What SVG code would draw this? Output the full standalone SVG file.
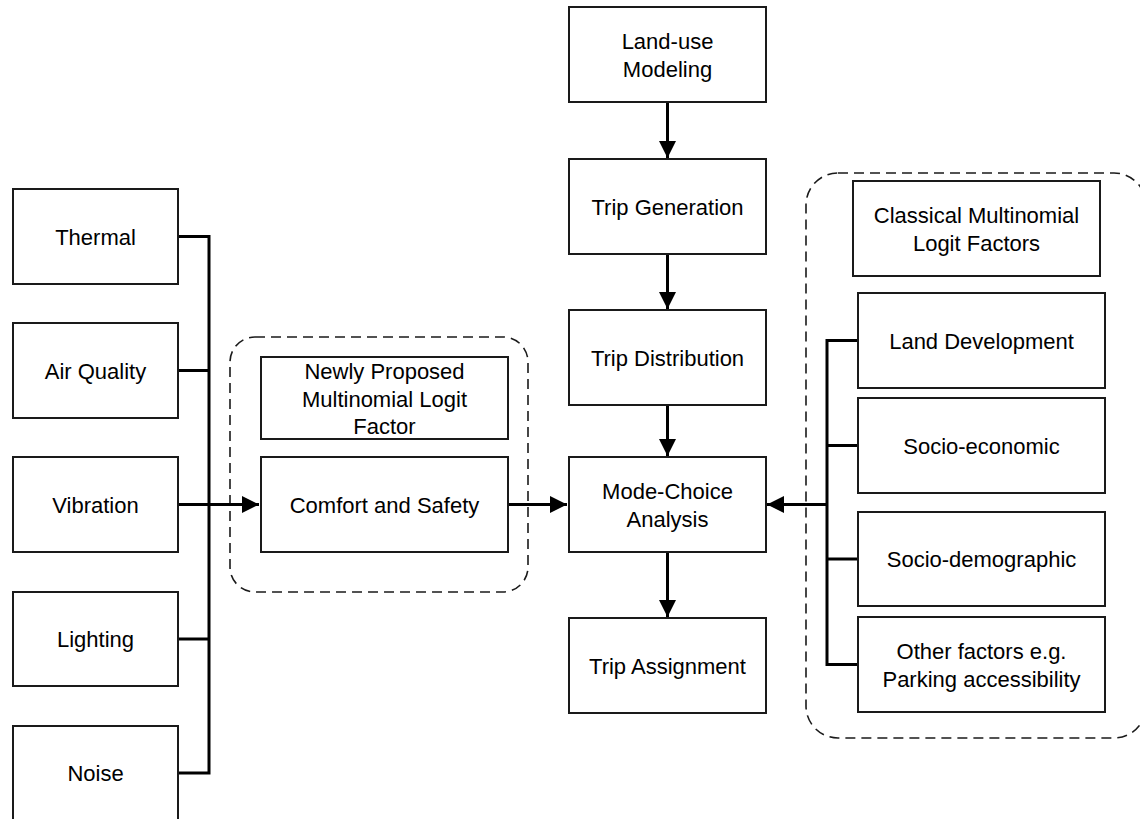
<svg xmlns="http://www.w3.org/2000/svg" width="1140" height="819" viewBox="0 0 1140 819">
<style>
.box{fill:#fff;stroke:#1a1a1a;stroke-width:2}
.grp{fill:none;stroke:#1a1a1a;stroke-width:1.6;stroke-dasharray:10 6}
.ln{fill:none;stroke:#000;stroke-width:3}
text{font-family:"Liberation Sans",Arial,sans-serif;font-size:22px;fill:#000;text-anchor:middle}
</style>
<defs>
<marker id="ah" viewBox="0 0 10 10" refX="10" refY="5" markerWidth="17" markerHeight="17" markerUnits="userSpaceOnUse" orient="auto">
<path d="M0,0 L10,5 L0,10 z" fill="#000"/>
</marker>
</defs>
<rect width="1140" height="819" fill="#fff"/>
<g id="groups">
<rect class="grp" x="230" y="337" width="298" height="255" rx="25" ry="25"/>
<rect class="grp" x="806" y="173" width="340" height="565" rx="32" ry="32"/>
</g>
<g id="connectors">
<polyline class="ln" points="178,236.5 209,236.5 209,773 178,773"/>
<line class="ln" x1="178" y1="370.5" x2="209" y2="370.5"/>
<line class="ln" x1="178" y1="639" x2="209" y2="639"/>
<line class="ln" x1="178" y1="504.5" x2="259" y2="504.5" marker-end="url(#ah)"/>
<line class="ln" x1="508" y1="504.5" x2="567" y2="504.5" marker-end="url(#ah)"/>
<line class="ln" x1="667.5" y1="102" x2="667.5" y2="158" marker-end="url(#ah)"/>
<line class="ln" x1="667.5" y1="254" x2="667.5" y2="309" marker-end="url(#ah)"/>
<line class="ln" x1="667.5" y1="405" x2="667.5" y2="456" marker-end="url(#ah)"/>
<line class="ln" x1="667.5" y1="552" x2="667.5" y2="617" marker-end="url(#ah)"/>
<polyline class="ln" points="858,340.5 827,340.5 827,664.5 858,664.5"/>
<line class="ln" x1="827" y1="445.5" x2="858" y2="445.5"/>
<line class="ln" x1="827" y1="559" x2="858" y2="559"/>
<line class="ln" x1="827" y1="504.5" x2="767" y2="504.5" marker-end="url(#ah)"/>
</g>
<g id="thermal"><rect class="box" x="13" y="189" width="165" height="95"/><text x="95.5" y="244.5">Thermal</text></g>
<g id="air-quality"><rect class="box" x="13" y="323" width="165" height="95"/><text x="95.5" y="378.5">Air Quality</text></g>
<g id="vibration"><rect class="box" x="13" y="457" width="165" height="95"/><text x="95.5" y="512.5">Vibration</text></g>
<g id="lighting"><rect class="box" x="13" y="592" width="165" height="94"/><text x="95.5" y="647">Lighting</text></g>
<g id="noise"><rect class="box" x="13" y="726" width="165" height="95"/><text x="95.5" y="781">Noise</text></g>
<g id="newly-proposed"><rect class="box" x="261" y="357" width="247" height="82"/><text x="384.5" y="379">Newly Proposed</text><text x="384.5" y="406.5">Multinomial Logit</text><text x="384.5" y="434">Factor</text></g>
<g id="comfort-safety"><rect class="box" x="261" y="457" width="247" height="95"/><text x="384.5" y="512.5">Comfort and Safety</text></g>
<g id="land-use"><rect class="box" x="569" y="7" width="197" height="95"/><text x="667.5" y="48.5">Land-use</text><text x="667.5" y="76.5">Modeling</text></g>
<g id="trip-generation"><rect class="box" x="569" y="159" width="197" height="95"/><text x="667.5" y="214.5">Trip Generation</text></g>
<g id="trip-distribution"><rect class="box" x="569" y="310" width="197" height="95"/><text x="667.5" y="365.5">Trip Distribution</text></g>
<g id="mode-choice"><rect class="box" x="569" y="457" width="197" height="95"/><text x="667.5" y="498.5">Mode-Choice</text><text x="667.5" y="526.5">Analysis</text></g>
<g id="trip-assignment"><rect class="box" x="569" y="618" width="197" height="95"/><text x="667.5" y="673.5">Trip Assignment</text></g>
<g id="classical"><rect class="box" x="853" y="181" width="247" height="95"/><text x="976.5" y="222.5">Classical Multinomial</text><text x="976.5" y="250.5">Logit Factors</text></g>
<g id="land-development"><rect class="box" x="858" y="293" width="247" height="95"/><text x="981.5" y="348.5">Land Development</text></g>
<g id="socio-economic"><rect class="box" x="858" y="398" width="247" height="95"/><text x="981.5" y="453.5">Socio-economic</text></g>
<g id="socio-demographic"><rect class="box" x="858" y="512" width="247" height="94"/><text x="981.5" y="567">Socio-demographic</text></g>
<g id="other-factors"><rect class="box" x="858" y="617" width="247" height="95"/><text x="981.5" y="658.5">Other factors e.g.</text><text x="981.5" y="686.5">Parking accessibility</text></g>
</svg>
